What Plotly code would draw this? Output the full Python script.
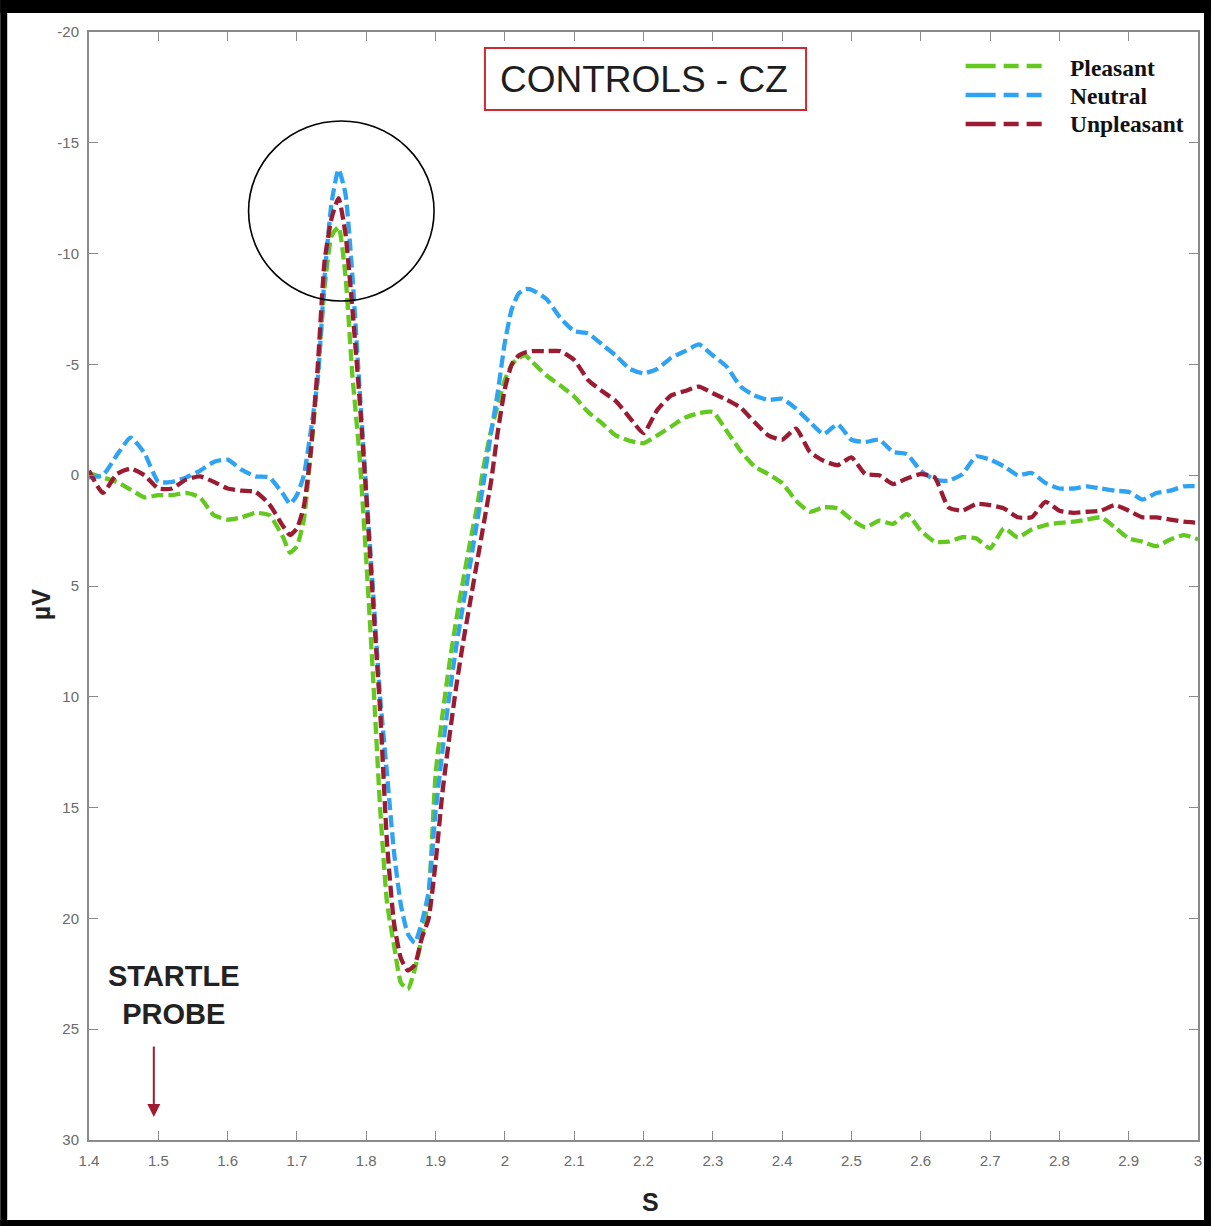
import numpy as np
import plotly.graph_objects as go

# Sampling instants (s): coarser before and after the startle response, finer through it
time_s = np.round(np.concatenate([
    np.arange(1.40, 1.681, 0.02),
    np.arange(1.69, 2.041, 0.01),
    np.arange(2.06, 3.001, 0.02),
]), 2)

# Grand-average ERP at Cz (µV) per picture category
pleasant = [
    -0.1, 0.1, 0.3, 0.65, 1.0, 0.9, 0.9, 0.8, 1.0, 1.8, 2.0, 1.9, 1.7, 1.8, 2.8,
    3.5, 3.2, 2.0, -1.0, -4.5, -8.5, -10.8, -11.2, -9.0, -4.5, -1.0, 3.8, 9.2, 15.0,
    19.3, 21.2, 22.9, 23.2, 22.3, 20.9, 19.0, 13.5, 10.8, 8.5, 6.5, 4.7, 3.0, 1.4,
    -0.5, -2.0, -3.2, -4.3, -5.0, -5.3, -5.4, -5.1,
    -4.5, -4.05, -3.55, -2.85, -2.35, -1.8, -1.55, -1.45,
    -1.8, -2.2, -2.6, -2.8, -2.85, -2.0, -1.1, -0.4,
    -0.05, 0.35, 1.15, 1.65, 1.45, 1.5, 2.0, 2.35,
    2.05, 2.2, 1.75, 2.5, 3.0, 3.0, 2.8, 2.85,
    3.3, 2.4, 2.8, 2.45, 2.25, 2.15, 2.1, 2.0,
    1.9, 2.35, 2.85, 3.0, 3.2, 2.9, 2.7, 2.9,
]
neutral = [
    0.1, 0.0, -0.9, -1.7, -1.0, 0.3, 0.3, 0.1, -0.2, -0.6, -0.7, -0.25, 0.05, 0.1, 0.85,
    1.3, 0.9, 0.0, -2.0, -4.3, -9.0, -12.3, -13.8, -12.7, -9.0, -4.1, 0.7, 5.3, 10.0,
    13.5, 17.0, 19.4, 20.7, 21.1, 20.2, 18.8, 15.2, 12.4, 9.9, 7.7, 5.8, 4.0, 2.1,
    0.2, -1.9, -3.8, -6.0, -7.5, -8.2, -8.4, -8.35,
    -7.95, -7.1, -6.5, -6.4, -5.9, -5.4, -4.8, -4.6,
    -4.8, -5.3, -5.6, -5.9, -5.4, -4.9, -4.0, -3.6,
    -3.4, -3.45, -3.0, -2.4, -1.85, -2.3, -1.6, -1.5,
    -1.6, -1.05, -0.95, -0.2, 0.2, 0.25, -0.05, -0.85,
    -0.7, -0.4, 0.0, -0.1, 0.35, 0.6, 0.6, 0.5,
    0.6, 0.7, 0.75, 1.1, 0.8, 0.7, 0.5, 0.5,
]
unpleasant = [
    -0.2, 0.8, -0.05, -0.3, 0.0, 0.6, 0.6, 0.2, 0.05, 0.3, 0.6, 0.7, 0.75, 1.3, 2.3,
    2.7, 2.4, 1.4, -1.1, -4.9, -9.7, -11.6, -12.5, -10.9, -7.5, -3.6, 0.9, 5.8, 10.6,
    16.6, 20.2, 21.8, 22.35, 22.1, 20.9, 20.0, 17.5, 14.3, 11.8, 9.5, 7.5, 5.7, 3.9,
    2.1, 0.3, -2.0, -3.9, -5.0, -5.4, -5.55, -5.6,
    -5.6, -5.6, -5.2, -4.3, -3.8, -3.35, -2.6, -1.9,
    -2.95, -3.6, -3.8, -4.0, -3.7, -3.4, -3.05, -2.4,
    -1.8, -1.6, -2.1, -1.05, -0.65, -0.45, -0.8, -0.05,
    0.0, 0.4, 0.15, -0.05, 0.1, 1.45, 1.6, 1.3,
    1.35, 1.5, 1.9, 1.9, 1.2, 1.6, 1.7, 1.65,
    1.6, 1.35, 1.6, 1.9, 1.9, 2.0, 2.1, 2.15,
]

series_names = ["Pleasant", "Neutral", "Unpleasant"]
series_colors = ["#63C91F", "#2FA3F3", "#9B1B32"]

x_ticks = [round(1.4 + 0.1 * i, 1) for i in range(17)]
x_ticktext = ["1.4", "1.5", "1.6", "1.7", "1.8", "1.9", "2", "2.1", "2.2",
              "2.3", "2.4", "2.5", "2.6", "2.7", "2.8", "2.9", "3"]
y_ticks = [-20, -15, -10, -5, 0, 5, 10, 15, 20, 25, 30]
y_ticktext = ["-20", "-15", "-10", "-5", "0", "5", "10", "15", "20", "25", "30"]

probe_time = 1.4935
probe_tip = 28.96

# plot-area geometry in page pixels
W, H = 1214, 1226
L, R, T, B = 89, 1201, 32, 1140


def px(x):
    return (x - L) / (R - L)


def py(y):
    return (B - y) / (B - T)


fig = go.Figure()
for name, vals, col in zip(series_names, [pleasant, neutral, unpleasant], series_colors):
    fig.add_trace(go.Scatter(
        x=time_s, y=vals, name=name, mode="lines",
        line=dict(color=col, width=4.3, dash="12px,5px", shape="spline", smoothing=0.5),
    ))

axis_grey = "#8a8a8a"
tick_font = dict(family="Arial, Liberation Sans, sans-serif", size=15, color="#6a6a6a")

fig.update_xaxes(
    range=[1.4, 3.0], tickvals=x_ticks, ticktext=x_ticktext,
    ticks="inside", ticklen=9, tickwidth=1.3, tickcolor=axis_grey,
    showline=True, linecolor=axis_grey, linewidth=2, mirror="ticks",
    showgrid=False, zeroline=False, tickfont=tick_font, ticklabelstandoff=6,
)
fig.update_yaxes(
    range=[30, -20], tickvals=y_ticks, ticktext=y_ticktext,
    ticks="inside", ticklen=9, tickwidth=1.3, tickcolor=axis_grey,
    showline=True, linecolor=axis_grey, linewidth=2, mirror="ticks",
    showgrid=False, zeroline=False, tickfont=tick_font, ticklabelstandoff=5,
)

shapes = []
# black frame around the page
for x0, x1, y0, y1 in [(0, 7, 0, H), (1207, W, 0, H), (0, W, 0, 13), (0, W, 1220, H)]:
    shapes.append(dict(type="rect", xref="paper", yref="paper",
                       x0=px(x0), x1=px(x1), y0=py(y1), y1=py(y0),
                       fillcolor="black", line=dict(width=0), layer="above"))
# title box
shapes.append(dict(type="rect", xref="paper", yref="paper",
                   x0=px(486), x1=px(808), y0=py(110), y1=py(48),
                   line=dict(color="#CC2A2E", width=2), fillcolor="rgba(0,0,0,0)"))
# circle marking the probe-evoked peak
shapes.append(dict(type="circle", xref="paper", yref="paper",
                   x0=px(249), x1=px(435), y0=py(301), y1=py(121),
                   line=dict(color="black", width=1.6)))
# legend samples
legend_rows = [66, 95, 124]
for yrow, col in zip(legend_rows, series_colors):
    shapes.append(dict(type="line", xref="paper", yref="paper",
                       x0=px(968), x1=px(1047), y0=py(yrow), y1=py(yrow),
                       line=dict(color=col, width=4.5, dash="30px,8px,15px,8px,15px")))

annotations = [
    dict(text="CONTROLS - CZ", xref="paper", yref="paper", x=px(645), y=py(79),
         showarrow=False, xanchor="center", yanchor="middle",
         font=dict(family="Arial, Liberation Sans, sans-serif", size=37, color="#1e1e1e")),
    dict(text="<b>µV</b>", xref="paper", yref="paper", x=px(41), y=py(605),
         showarrow=False, textangle=-90, xanchor="center", yanchor="middle",
         font=dict(family="Arial, Liberation Sans, sans-serif", size=25, color="#222")),
    dict(text="<b>S</b>", xref="paper", yref="paper", x=px(652), y=py(1202),
         showarrow=False, xanchor="center", yanchor="middle",
         font=dict(family="Arial, Liberation Sans, sans-serif", size=25, color="#222")),
    dict(text="<b>STARTLE<br>PROBE</b>", xref="paper", yref="paper", x=px(174), y=py(995),
         showarrow=False, xanchor="center", yanchor="middle",
         font=dict(family="Arial, Liberation Sans, sans-serif", size=29, color="#222")),
    dict(text="", xref="x", yref="y", x=probe_time, y=probe_tip, ax=0, ay=-72,
         showarrow=True, arrowhead=2, arrowsize=1.3, arrowwidth=2, arrowcolor="#A01A30"),
]
for yrow, name in zip([68, 96, 124], series_names):
    annotations.append(dict(text="<b>%s</b>" % name, xref="paper", yref="paper",
                            x=px(1071), y=py(yrow), showarrow=False,
                            xanchor="left", yanchor="middle",
                            font=dict(family="Liberation Serif, Times New Roman, serif",
                                      size=23.5, color="#111")))

fig.update_layout(
    width=W, height=H, margin=dict(l=L, r=W - R, t=T, b=H - B),
    paper_bgcolor="white", plot_bgcolor="white", showlegend=False,
    shapes=shapes, annotations=annotations,
)

fig.write_html("out.html")
